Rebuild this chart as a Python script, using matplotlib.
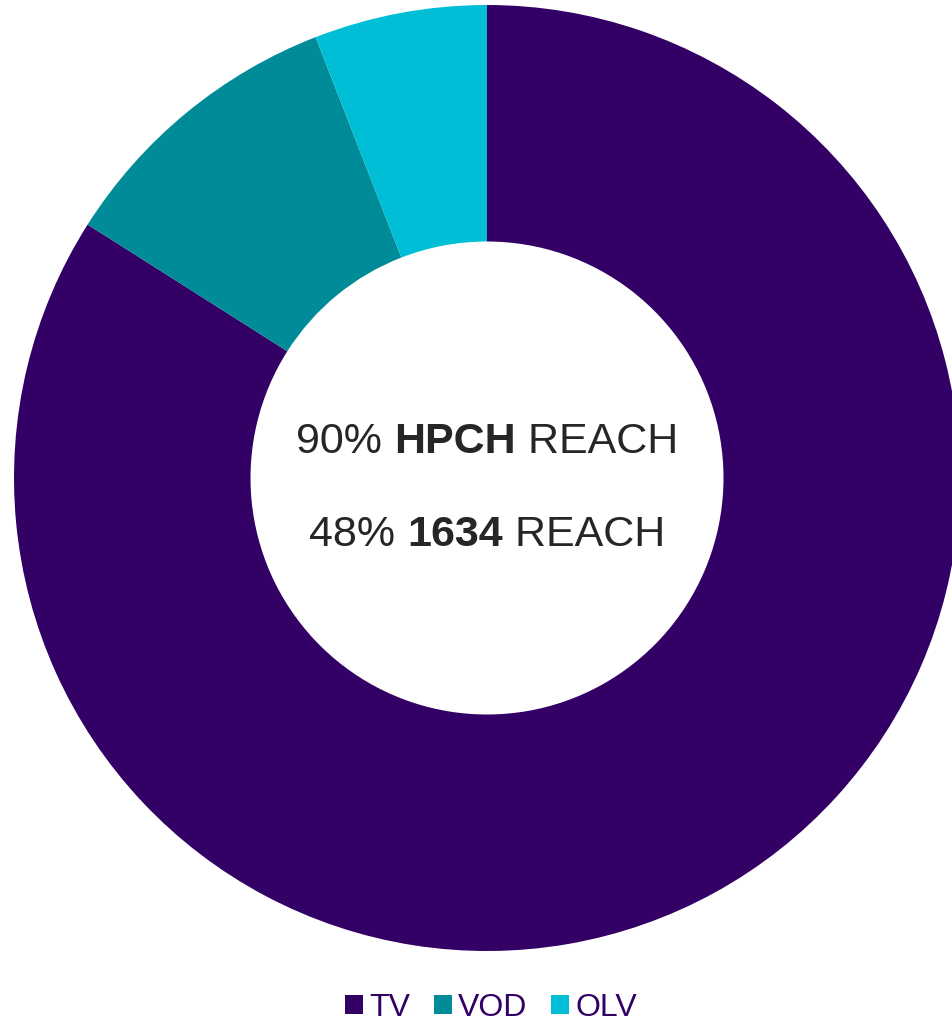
import matplotlib
matplotlib.use("Agg")
from matplotlib import pyplot as plt
from matplotlib.patches import Patch

# slice shares (percent)
labels = ["TV", "VOD", "OLV"]
shares = [84, 10.1, 5.9]
colors = ["#330066", "#008B99", "#00BED6"]

# centre text lines: (plain, bold, plain)
line1 = ["90% ", "HPCH", " REACH"]
line2 = ["48% ", "1634", " REACH"]

plt.rcParams["font.family"] = ["Liberation Sans", "DejaVu Sans"]

W, H = 953, 1022
fig = plt.figure(figsize=(W / 100, H / 100), dpi=100)
ax = fig.add_axes([0, 0, 1, 1])

cx, cy, r = 487, 478, 473
# pixel coords with y flipped: startangle -90 is the visual top,
# counterclock in data runs clockwise on screen
ax.pie(shares, colors=colors, startangle=-90, counterclock=True,
       center=(cx, cy), radius=r, frame=True,
       wedgeprops=dict(width=r * 0.5, linewidth=0))
ax.set_xlim(0, W)
ax.set_ylim(H, 0)
ax.set_aspect("equal")
ax.axis("off")

fig.canvas.draw()
renderer = fig.canvas.get_renderer()


def centred_line(parts, y, size=31):
    weights = ["normal", "bold", "normal"]
    texts = []
    for p, w in zip(parts, weights):
        t = ax.text(0, y, p, fontsize=size, fontweight=w, color="#262626",
                    va="center", ha="left")
        texts.append(t)
    widths = []
    for t in texts:
        bb = t.get_window_extent(renderer)
        widths.append(bb.width)
    total = sum(widths)
    x = cx - total / 2
    for t, w in zip(texts, widths):
        t.set_x(x)
        x += w


centred_line(line1, 442)
centred_line(line2, 535)

handles = [Patch(facecolor=c, edgecolor="none") for c in colors]
leg = fig.legend(handles, labels, loc="center", bbox_to_anchor=(491 / W, 1 - 1008 / H),
                 ncol=3, frameon=False, fontsize=23, handlelength=0.55, handleheight=0.55,
                 handletextpad=0.2, columnspacing=0.75)
for t in leg.get_texts():
    t.set_color("#330066")

plt.savefig("out.png", dpi=100)
